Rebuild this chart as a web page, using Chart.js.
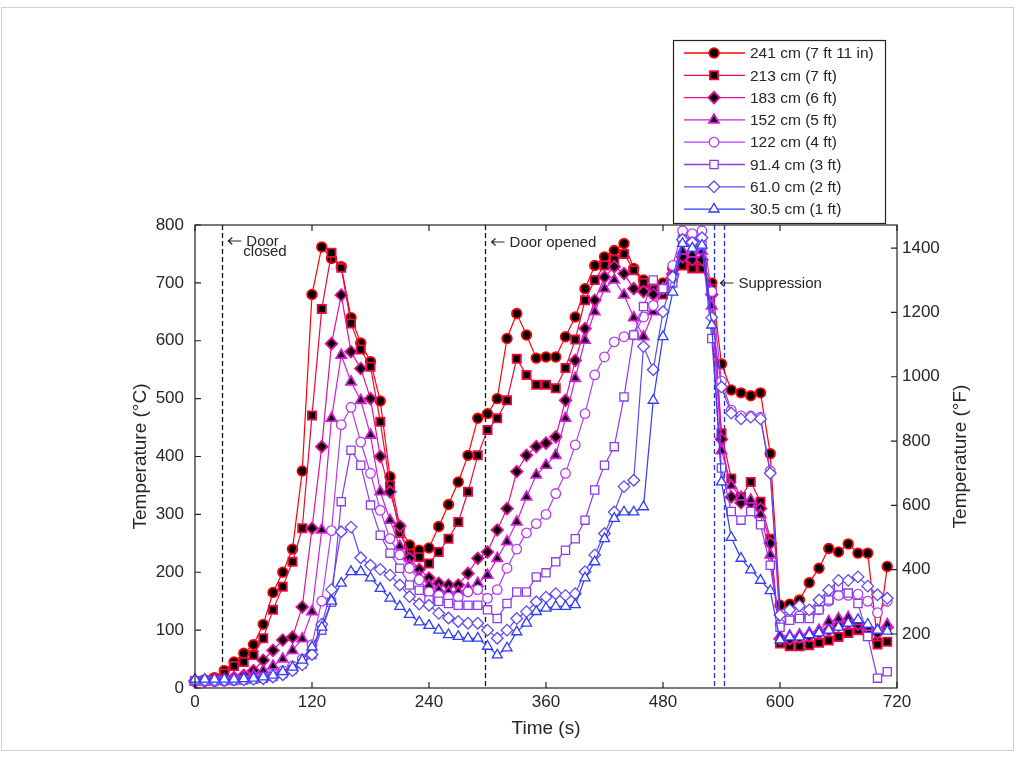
<!DOCTYPE html>
<html>
<head>
<meta charset="utf-8">
<title>Temperature vs time</title>
<script src="https://cdn.jsdelivr.net/npm/chart.js@4.4.1/dist/chart.umd.min.js"></script>
<style>
  html, body { margin: 0; padding: 0; background: #fff; }
  #wrap { width: 1018px; height: 757px; }
</style>
</head>
<body>
<div id="wrap"><canvas id="chart" width="1018" height="757"></canvas></div>
<script>
// sample times (s)
const times = [0, 10, 20, 30, 40, 50, 60, 70, 80, 90, 100, 110, 120, 130, 140, 150, 160, 170, 180, 190,
  200, 210, 220, 230, 240, 250, 260, 270, 280, 290, 300, 310, 320, 330, 340, 350, 360, 370, 380, 390,
  400, 410, 420, 430, 440, 450, 460, 470, 480, 490, 500, 510, 520, 530, 540, 550, 560, 570, 580, 590,
  600, 610, 620, 630, 640, 650, 660, 670, 680, 690, 700, 710];

// temperatures (°C) per thermocouple height
const t241 = [12, 14, 18, 30, 45, 60, 75, 110, 165, 200, 240, 375, 680, 762, 742, 728, 640, 596, 564, 496,
  365, 279, 247, 238, 242, 279, 317, 356, 402, 466, 474, 500, 604, 647, 610, 570, 572, 572, 607, 641,
  690, 730, 745, 756, 768, 725, 705, 690, 700, 725, 740, 735, 735, 700, 560, 515, 510, 505, 510, 405,
  143, 145, 152, 182, 207, 241, 235, 249, 233, 233, 80, 210];
const t213 = [12, 13, 16, 25, 38, 45, 57, 86, 135, 175, 218, 276, 471, 655, 752, 726, 630, 585, 555, 460,
  350, 268, 232, 226, 215, 235, 258, 287, 339, 402, 446, 466, 497, 569, 541, 524, 524, 518, 553, 602,
  670, 705, 730, 740, 750, 722, 700, 688, 680, 710, 730, 725, 725, 690, 440, 362, 330, 356, 322, 258,
  77, 72, 72, 74, 78, 82, 88, 95, 100, 90, 75, 80];
const t183 = [11, 12, 13, 15, 18, 22, 30, 48, 65, 83, 88, 140, 276, 417, 595, 679, 581, 552, 500, 400,
  339, 280, 224, 205, 190, 181, 178, 178, 198, 224, 235, 273, 310, 374, 402, 417, 423, 434, 497, 566,
  621, 670, 710, 728, 716, 690, 685, 680, 690, 715, 745, 740, 740, 680, 430, 330, 320, 320, 310, 250,
  85, 85, 88, 90, 95, 100, 108, 112, 110, 100, 95, 105];
const t152 = [11, 11, 12, 13, 15, 18, 22, 30, 38, 50, 65, 85, 132, 273, 466, 575, 529, 497, 437, 339,
  290, 245, 212, 192, 178, 170, 166, 166, 172, 181, 195, 224, 253, 287, 330, 368, 385, 402, 466, 535,
  601, 650, 690, 705, 679, 640, 607, 650, 690, 720, 755, 750, 755, 660, 410, 350, 330, 325, 300, 230,
  90, 90, 92, 95, 100, 115, 120, 122, 115, 105, 100, 110];
const t122 = [11, 11, 11, 12, 13, 14, 16, 19, 24, 30, 38, 50, 75, 150, 272, 455, 485, 425, 371, 307,
  258, 230, 207, 187, 166, 160, 157, 157, 166, 170, 155, 170, 207, 240, 268, 284, 300, 336, 371, 420,
  474, 541, 572, 598, 607, 610, 641, 661, 690, 730, 790, 785, 790, 685, 530, 480, 470, 470, 468, 375,
  110, 120, 125, 125, 135, 150, 160, 160, 162, 150, 130, 150];
const t91 = [12, 12, 12, 13, 13, 14, 15, 17, 20, 25, 32, 42, 58, 100, 148, 322, 411, 385, 316, 264,
  233, 207, 178, 169, 152, 150, 146, 143, 143, 143, 135, 120, 146, 166, 166, 192, 199, 218, 238, 258,
  290, 342, 385, 417, 503, 610, 659, 705, 690, 700, 775, 770, 765, 604, 380, 305, 290, 305, 282, 212,
  105, 117, 120, 120, 135, 152, 175, 164, 146, 89, 17, 28];
const t61 = [13, 13, 13, 13, 14, 14, 15, 16, 19, 23, 30, 40, 58, 110, 170, 270, 278, 225, 212, 205,
  195, 178, 158, 145, 143, 129, 121, 115, 112, 112, 100, 86, 100, 120, 132, 149, 157, 163, 160, 163,
  201, 230, 267, 304, 348, 359, 590, 550, 650, 710, 775, 770, 778, 640, 520, 475, 465, 468, 465, 371,
  126, 135, 142, 135, 152, 169, 186, 186, 192, 176, 161, 155];
const t30 = [15, 15, 15, 15, 15, 16, 17, 19, 22, 28, 36, 48, 71, 105, 150, 181, 201, 201, 190, 172,
  155, 141, 127, 114, 108, 100, 92, 89, 86, 86, 72, 57, 69, 97, 112, 132, 138, 141, 141, 144,
  190, 218, 258, 293, 304, 304, 313, 497, 607, 684, 768, 760, 765, 627, 356, 260, 224, 204, 186, 168,
  83, 88, 88, 92, 95, 100, 105, 112, 118, 110, 100, 98];

const seriesLabels = ['241 cm (7 ft 11 in)', '213 cm (7 ft)', '183 cm (6 ft)', '152 cm (5 ft)',
  '122 cm (4 ft)', '91.4 cm (3 ft)', '61.0 cm (2 ft)', '30.5 cm (1 ft)'];
const seriesValues = [t241, t213, t183, t152, t122, t91, t61, t30];

const xTicks = [0, 120, 240, 360, 480, 600, 720];
const cTicks = [0, 100, 200, 300, 400, 500, 600, 700, 800];
const fTicks = [200, 400, 600, 800, 1000, 1200, 1400];

// events (s)
const doorEvents = [28, 297];
const suppressionLines = [532, 543];

const colors = ['#ff0000', '#ea0a40', '#e0109a', '#d21cd6', '#b83cf0', '#8c3ce8', '#6048f0', '#2f3cfa'];
const markers = ['circle', 'rect', 'rectRot', 'triangle', 'circle', 'rect', 'rectRot', 'triangle'];
const filled = [true, true, true, true, false, false, false, false];
const radii = { circle: 4.8, rect: 5.8, rectRot: 5.8, triangle: 5.8 };

const FONT = '"Liberation Sans", Arial, sans-serif';
Chart.defaults.font.family = FONT;
Chart.defaults.color = '#262626';

const datasets = seriesValues.map(function (vals, i) {
  return {
    label: seriesLabels[i],
    data: vals.map(function (v, k) { return { x: times[k], y: v }; }),
    borderColor: colors[i],
    borderWidth: 1.2,
    pointStyle: markers[i],
    pointRadius: radii[markers[i]],
    pointBackgroundColor: filled[i] ? '#000' : '#fff',
    pointBorderColor: colors[i],
    pointBorderWidth: filled[i] ? 1.8 : 1.3,
    tension: 0,
    clip: false,
    order: 8 - i
  };
});

function drawMarker(ctx, style, x, y, r, fill, stroke, lw) {
  ctx.save();
  ctx.fillStyle = fill;
  ctx.strokeStyle = stroke;
  ctx.lineWidth = lw;
  if (Chart.helpers && Chart.helpers.drawPoint) {
    Chart.helpers.drawPoint(ctx, { pointStyle: style, radius: r, rotation: 0, borderWidth: lw }, x, y);
  } else {
    ctx.beginPath();
    ctx.arc(x, y, r, 0, Math.PI * 2);
    ctx.fill();
    ctx.stroke();
  }
  ctx.restore();
}

// small left arrow followed by a note
function note(ctx, text, x, y) {
  ctx.save();
  ctx.strokeStyle = '#262626';
  ctx.lineWidth = 1.2;
  ctx.beginPath();
  ctx.moveTo(x, y); ctx.lineTo(x + 13, y);
  ctx.moveTo(x + 4, y - 3.5); ctx.lineTo(x, y); ctx.lineTo(x + 4, y + 3.5);
  ctx.stroke();
  ctx.restore();
  ctx.fillText(text, x + 18, y + 1);
}

const decor = {
  id: 'decor',
  beforeDatasetsDraw(chart) {
    const ctx = chart.ctx;
    const a = chart.chartArea;
    const xs = chart.scales.x;
    ctx.save();
    ctx.lineWidth = 1.3;
    ctx.setLineDash([5, 3]);
    ctx.strokeStyle = '#111';
    doorEvents.forEach(function (t) {
      const px = Math.round(xs.getPixelForValue(t)) + 0.5;
      ctx.beginPath(); ctx.moveTo(px, a.top); ctx.lineTo(px, a.bottom); ctx.stroke();
    });
    ctx.strokeStyle = '#1f2fe0';
    suppressionLines.forEach(function (t) {
      const px = Math.round(xs.getPixelForValue(t)) + 0.5;
      ctx.beginPath(); ctx.moveTo(px, a.top); ctx.lineTo(px, a.bottom); ctx.stroke();
    });
    ctx.restore();
  },
  afterDraw(chart) {
    const ctx = chart.ctx;
    const a = chart.chartArea;
    const xs = chart.scales.x, yc = chart.scales.y, yf = chart.scales.yF;
    ctx.save();

    // axes box with inward ticks
    ctx.strokeStyle = '#222';
    ctx.lineWidth = 1.2;
    ctx.strokeRect(a.left, a.top, a.right - a.left, a.bottom - a.top);
    ctx.beginPath();
    cTicks.forEach(function (v) {
      const py = yc.getPixelForValue(v);
      ctx.moveTo(a.left, py); ctx.lineTo(a.left + 6, py);
    });
    fTicks.forEach(function (v) {
      const py = yf.getPixelForValue(v);
      ctx.moveTo(a.right, py); ctx.lineTo(a.right - 6, py);
    });
    xTicks.forEach(function (v) {
      const px = xs.getPixelForValue(v);
      ctx.moveTo(px, a.bottom); ctx.lineTo(px, a.bottom - 6);
      ctx.moveTo(px, a.top); ctx.lineTo(px, a.top + 6);
    });
    ctx.stroke();

    // axis titles
    ctx.fillStyle = '#262626';
    ctx.font = '19px ' + FONT;
    ctx.textAlign = 'center';
    ctx.textBaseline = 'middle';
    ctx.fillText('Time (s)', (a.left + a.right) / 2, 729);
    ctx.save();
    ctx.translate(141, (a.top + a.bottom) / 2);
    ctx.rotate(-Math.PI / 2);
    ctx.fillText('Temperature (\u00B0C)', 0, 0);
    ctx.restore();
    ctx.save();
    ctx.translate(961, (a.top + a.bottom) / 2);
    ctx.rotate(-Math.PI / 2);
    ctx.fillText('Temperature (\u00B0F)', 0, 0);
    ctx.restore();

    // event notes
    ctx.font = '15px ' + FONT;
    ctx.textAlign = 'left';
    const xd = xs.getPixelForValue(doorEvents[0]);
    note(ctx, 'Door', xd + 6, 241);
    ctx.fillText('closed', xd + 21, 252);
    note(ctx, 'Door opened', xs.getPixelForValue(doorEvents[1]) + 7, 242);
    note(ctx, 'Suppression', xs.getPixelForValue(suppressionLines[1]) - 4, 283);

    // legend box
    const lx = 673, ly = 40, lw = 212, lh = 183;
    ctx.fillStyle = '#fff';
    ctx.fillRect(lx, ly, lw, lh);
    ctx.strokeStyle = '#222';
    ctx.lineWidth = 1.2;
    ctx.strokeRect(lx + 0.5, ly + 0.5, lw, lh);
    ctx.font = '15.5px ' + FONT;
    seriesLabels.forEach(function (label, i) {
      const yy = ly + 13 + i * 22.3;
      ctx.strokeStyle = colors[i];
      ctx.lineWidth = 1.3;
      ctx.beginPath(); ctx.moveTo(lx + 11, yy); ctx.lineTo(lx + 72, yy); ctx.stroke();
      drawMarker(ctx, markers[i], lx + 41, yy, radii[markers[i]], filled[i] ? '#000' : '#fff', colors[i], filled[i] ? 1.8 : 1.3);
      ctx.fillStyle = '#262626';
      ctx.fillText(label, lx + 77, yy + 1);
    });

    // faint frame round the figure
    ctx.strokeStyle = '#cfcfcf';
    ctx.lineWidth = 1;
    ctx.strokeRect(1.5, 7.5, 1012, 743);
    ctx.restore();
  }
};

const ctx = document.getElementById('chart').getContext('2d');
new Chart(ctx, {
  type: 'line',
  data: { datasets: datasets },
  options: {
    responsive: false,
    animation: false,
    layout: { padding: { top: 225, right: 0, bottom: 0, left: 0 } },
    plugins: { legend: { display: false }, tooltip: { enabled: false } },
    scales: {
      x: {
        type: 'linear', min: 0, max: 720,
        grid: { display: false, drawTicks: false },
        border: { display: false },
        ticks: { stepSize: 120, padding: 4, maxRotation: 0, font: { size: 17 } },
        afterFit: function (s) { s.height = 69; }
      },
      y: {
        position: 'left', min: 0, max: 800,
        grid: { display: false, drawTicks: false },
        border: { display: false },
        ticks: { stepSize: 100, padding: 11, font: { size: 17 } },
        afterFit: function (s) { s.width = 195; }
      },
      yF: {
        position: 'right', min: 32, max: 1472,
        grid: { display: false, drawTicks: false },
        border: { display: false },
        ticks: { padding: 5, font: { size: 17 }, callback: function (v) { return String(v); } },
        afterBuildTicks: function (s) { s.ticks = fTicks.map(function (v) { return { value: v }; }); },
        afterFit: function (s) { s.width = 121; }
      }
    }
  },
  plugins: [decor]
});
</script>
</body>
</html>
